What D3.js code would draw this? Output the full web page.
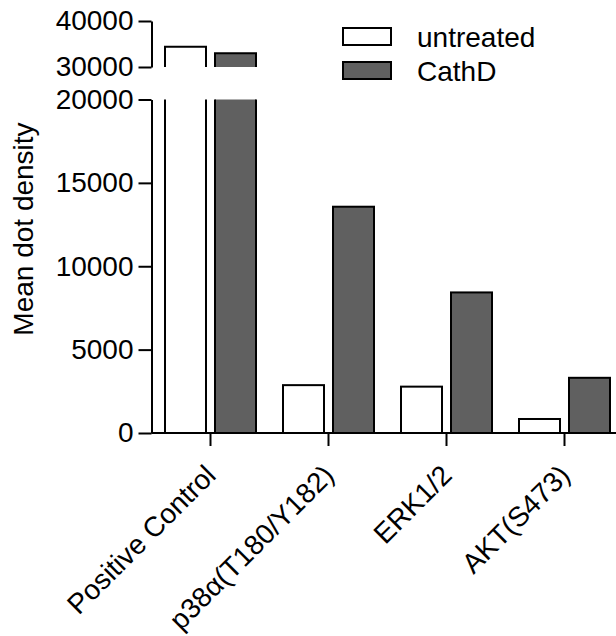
<!DOCTYPE html>
<html>
<head>
<meta charset="utf-8">
<script src="https://cdn.jsdelivr.net/npm/d3@7"></script>
<style>
  html, body { margin: 0; padding: 0; background: #fff; }
  svg { display: block; }
  text { font-family: "Liberation Sans", Arial, sans-serif; fill: #000; }
</style>
</head>
<body>
<svg id="chart" width="616" height="636"></svg>
<script>
// Mean dot density per phospho-target, untreated vs CathD
const categories = ["Positive Control", "p38\u03B1(T180/Y182)", "ERK1/2", "AKT(S473)"];
const seriesNames = ["untreated", "CathD"];
const untreated = [34400, 2870, 2780, 840];
const cathD = [32980, 13570, 8430, 3310];
const lowTicks = [0, 5000, 10000, 15000, 20000];
const highTicks = [30000, 40000];

const colors = { untreated: "#ffffff", CathD: "#606060" };
const fontSize = 28;

const svg = d3.select("#chart");

// broken y axis: two linear segments
const yLow = d3.scaleLinear().domain([0, 20000]).range([433, 99.5]);
const yHigh = d3.scaleLinear().domain([30000, 40000]).range([67, 21]);
const axisX = 151.5;

const x = d3.scaleBand().domain(categories).range([axisX, axisX + 4 * 118]);
const xInner = d3.scaleBand().domain(seriesNames).range([13.5, 104.5]).paddingInner(0.18);

const rows = categories.map((c, i) => ({ cat: c, values: [
  { key: "untreated", value: untreated[i] },
  { key: "CathD", value: cathD[i] }
]}));

// bars
const barG = svg.append("g");
rows.forEach(row => {
  row.values.forEach(d => {
    const x0 = x(row.cat) + xInner(d.key);
    const x1 = x0 + xInner.bandwidth();
    const fill = colors[d.key];
    if (d.value <= yLow.domain()[1]) {
      barG.append("rect")
        .attr("x", x0).attr("y", yLow(d.value))
        .attr("width", x1 - x0).attr("height", yLow(0) - yLow(d.value))
        .attr("fill", fill).attr("stroke", "#000").attr("stroke-width", 2);
    } else {
      // lower piece, open at the break
      barG.append("rect")
        .attr("x", x0).attr("y", yLow(20000))
        .attr("width", x1 - x0).attr("height", yLow(0) - yLow(20000))
        .attr("fill", fill).attr("stroke", "none");
      barG.append("path")
        .attr("d", `M${x0},${yLow(20000)}V${yLow(0)}M${x1},${yLow(20000)}V${yLow(0)}`)
        .attr("fill", "none").attr("stroke", "#000").attr("stroke-width", 2);
      // upper piece, open at the break
      barG.append("rect")
        .attr("x", x0).attr("y", yHigh(d.value))
        .attr("width", x1 - x0).attr("height", yHigh(30000) - yHigh(d.value))
        .attr("fill", fill).attr("stroke", "none");
      barG.append("path")
        .attr("d", `M${x0},${yHigh(30000)}V${yHigh(d.value)}H${x1}V${yHigh(30000)}`)
        .attr("fill", "none").attr("stroke", "#000").attr("stroke-width", 2);
    }
  });
});

function styleAxis(g) {
  g.selectAll("path, line").attr("stroke", "#000").attr("stroke-width", 2);
  g.selectAll("text").attr("font-size", fontSize)
    .attr("font-family", "Liberation Sans, Arial, sans-serif").attr("fill", "#000");
}

// y axes
svg.append("g").attr("transform", `translate(${axisX},0)`)
  .call(d3.axisLeft(yLow).tickValues(lowTicks).tickFormat(d3.format("d")).tickSize(13).tickSizeOuter(0).tickPadding(5))
  .call(styleAxis);
svg.append("g").attr("transform", `translate(${axisX},0)`)
  .call(d3.axisLeft(yHigh).tickValues(highTicks).tickFormat(d3.format("d")).tickSize(13).tickSizeOuter(0).tickPadding(5))
  .call(styleAxis);

// x axis
const xAxisG = svg.append("g").attr("transform", `translate(0,${yLow(0)})`)
  .call(d3.axisBottom(x).tickSize(13).tickSizeOuter(0).tickPadding(0))
  .call(styleAxis);
xAxisG.select(".domain").attr("d", `M${axisX},0H616`);
xAxisG.selectAll(".tick text")
  .attr("x", 0).attr("y", 0).attr("dy", 0)
  .attr("text-anchor", "end")
  .attr("transform", "translate(7,44) rotate(-45)");

// y title
svg.append("text")
  .attr("transform", "translate(33,229) rotate(-90)")
  .attr("text-anchor", "middle")
  .attr("font-size", fontSize)
  .text("Mean dot density");

// legend
const legend = svg.append("g");
seriesNames.forEach((name, i) => {
  const gy = 28 + i * 34;
  legend.append("rect")
    .attr("x", 343).attr("y", gy).attr("width", 48).attr("height", 17)
    .attr("fill", colors[name]).attr("stroke", "#000").attr("stroke-width", 2);
  legend.append("text")
    .attr("x", 417).attr("y", gy + 19)
    .attr("font-size", fontSize)
    .text(name);
});
</script>
</body>
</html>
